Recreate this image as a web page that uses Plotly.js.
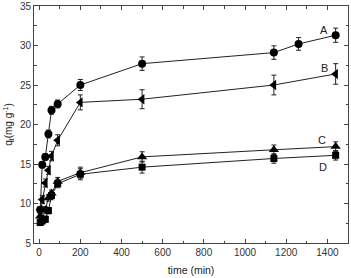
<!DOCTYPE html>
<html>
<head>
<meta charset="utf-8">
<script src="https://cdn.plot.ly/plotly-3.0.1.min.js"></script>
<style>
  html, body { margin: 0; padding: 0; background: #fff; }
  #chart { width: 351px; height: 278px; }
</style>
</head>
<body>
<div id="chart"></div>
<script>
// Adsorption kinetics: uptake q_t versus contact time for four samples
const timeA = [5, 15, 30, 45, 60, 90, 200, 500, 1140, 1260, 1440];
const qA    = [9.2, 14.9, 15.9, 18.8, 21.8, 22.6, 25.0, 27.7, 29.1, 30.2, 31.3];
const errA  = [0.4, 0.4, 0.4, 0.5, 0.5, 0.5, 0.7, 0.85, 0.85, 0.8, 0.9];

const timeB = [5, 15, 30, 45, 60, 90, 200, 500, 1140, 1440];
const qB    = [9.2, 10.5, 12.6, 14.2, 16.0, 18.0, 22.8, 23.2, 25.0, 26.4];
const errB  = [0.4, 0.5, 0.5, 0.5, 0.6, 0.7, 0.95, 1.2, 1.25, 1.3];

const timeC = [5, 15, 30, 45, 60, 90, 200, 500, 1140, 1440];
const qC    = [8.4, 8.0, 9.2, 10.7, 11.3, 12.8, 13.9, 15.9, 16.8, 17.2];
const errC  = [0.4, 0.4, 0.4, 0.4, 0.4, 0.5, 0.7, 0.65, 0.6, 0.6];

const timeD = [5, 15, 30, 45, 60, 90, 200, 500, 1140, 1440];
const qD    = [7.6, 7.8, 8.0, 9.1, 11.0, 12.5, 13.7, 14.6, 15.7, 16.1];
const errD  = [0.4, 0.4, 0.4, 0.4, 0.4, 0.5, 0.7, 0.75, 0.6, 0.6];

const seriesNames = ['A', 'B', 'C', 'D'];
const labelX = [1385, 1385, 1373, 1378];
const labelY = [31.96, 27.1, 18.1, 14.65];

const FONT = 'Liberation Sans, Arial, sans-serif';

function series(x, y, err, symbol, size) {
  return {
    x: x, y: y, type: 'scatter', mode: 'lines+markers',
    line: { color: '#222', width: 1 },
    marker: { symbol: symbol, size: size, color: '#000' },
    error_y: { type: 'data', array: err, visible: true, color: '#222', thickness: 1, width: 2.5 },
    showlegend: false, cliponaxis: false
  };
}

const traces = [
  series(timeA, qA, errA, 'circle', 8),
  series(timeB, qB, errB, 'triangle-left', 9),
  series(timeC, qC, errC, 'triangle-up', 9),
  series(timeD, qD, errD, 'square', 7)
];

const annotations = seriesNames.map((n, i) => ({
  x: labelX[i], y: labelY[i], xref: 'x', yref: 'y', text: n, showarrow: false,
  font: { family: FONT, size: 11, color: '#222' }
}));

const axisCommon = {
  showline: true, linecolor: '#444', linewidth: 1, mirror: 'ticks',
  ticks: 'inside', ticklen: 4, tickwidth: 1, tickcolor: '#444',
  showgrid: false, zeroline: false,
  tickfont: { family: FONT, size: 10, color: '#333' }
};

const layout = {
  width: 351, height: 278,
  margin: { l: 34, r: 3, t: 6, b: 35 },
  paper_bgcolor: '#fff', plot_bgcolor: '#fff',
  xaxis: Object.assign({}, axisCommon, {
    range: [-25, 1500], tick0: 0, dtick: 200,
    minor: { dtick: 100, ticks: 'inside', ticklen: 2.5, tickcolor: '#444', showgrid: false },
    title: { text: 'time (min)', standoff: 9, font: { family: FONT, size: 10.5, color: '#222' } }
  }),
  yaxis: Object.assign({}, axisCommon, {
    range: [5, 35], tick0: 5, dtick: 5,
    minor: { dtick: 2.5, ticks: 'inside', ticklen: 2.5, tickcolor: '#444', showgrid: false },
    title: { text: 'q<sub>t</sub>(mg g<sup>-1</sup>)', standoff: 5, font: { family: FONT, size: 10, color: '#222' } }
  }),
  annotations: annotations
};

Plotly.newPlot('chart', traces, layout, { displayModeBar: false, staticPlot: true });
</script>
</body>
</html>
